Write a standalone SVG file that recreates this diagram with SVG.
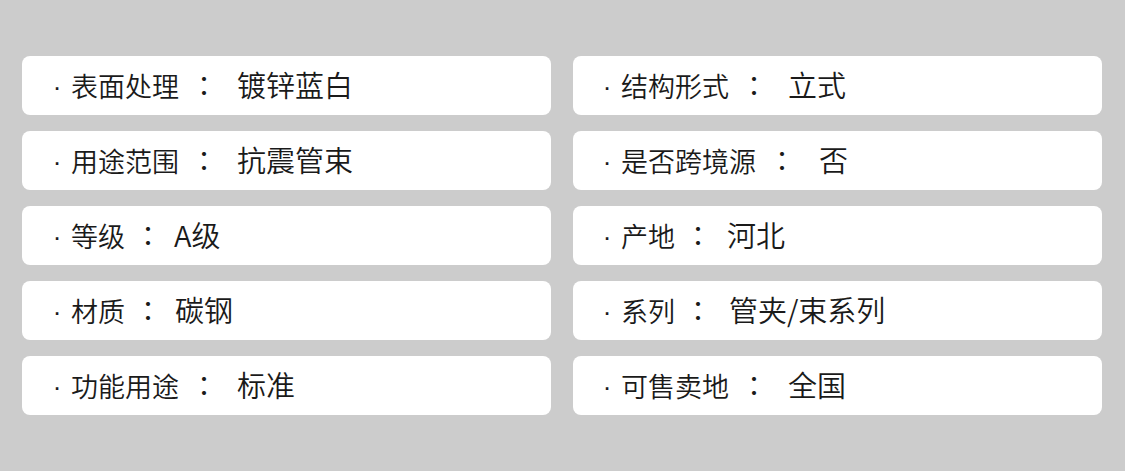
<svg xmlns="http://www.w3.org/2000/svg" width="1125" height="471" viewBox="0 0 1125 471">
<style>
.bg{fill:#cccccc}
.card{fill:#ffffff}
.t{font-family:"Noto Sans CJK SC","Noto Sans",sans-serif;font-size:27px;font-weight:350;fill:#1a1a1a}
.v{font-family:"Noto Sans CJK SC","Noto Sans",sans-serif;font-size:29px;font-weight:350;fill:#1a1a1a}
.d{font-family:"Liberation Sans",sans-serif;font-size:26px;fill:#1a1a1a;text-anchor:middle}
.c{font-family:"Noto Sans CJK TC",sans-serif;font-size:28px;font-weight:350;fill:#1a1a1a;text-anchor:middle}
</style>
<rect class="bg" x="0" y="0" width="1125" height="471"/>
<g id="n1"><rect class="card" x="22" y="56" width="529" height="59" rx="8"/>
<text class="d" x="57" y="96">·</text><text class="t" x="71" y="97">表面处理</text><text class="c" x="204" y="97">：</text><text class="v" x="237" y="97">镀锌蓝白</text></g>
<g id="n2"><rect class="card" x="22" y="131" width="529" height="59" rx="8"/>
<text class="d" x="57" y="171">·</text><text class="t" x="71" y="172">用途范围</text><text class="c" x="204" y="172">：</text><text class="v" x="237" y="172">抗震管束</text></g>
<g id="n3"><rect class="card" x="22" y="206" width="529" height="59" rx="8"/>
<text class="d" x="57" y="246">·</text><text class="t" x="71" y="247">等级</text><text class="c" x="148" y="247">：</text><text class="v" x="174" y="247">A级</text></g>
<g id="n4"><rect class="card" x="22" y="281" width="529" height="59" rx="8"/>
<text class="d" x="57" y="321">·</text><text class="t" x="71" y="322">材质</text><text class="c" x="148" y="322">：</text><text class="v" x="175" y="322">碳钢</text></g>
<g id="n5"><rect class="card" x="22" y="356" width="529" height="59" rx="8"/>
<text class="d" x="57" y="396">·</text><text class="t" x="71" y="397">功能用途</text><text class="c" x="204" y="397">：</text><text class="v" x="237" y="397">标准</text></g>
<g id="n6"><rect class="card" x="573" y="56" width="529" height="59" rx="8"/>
<text class="d" x="607" y="96">·</text><text class="t" x="621" y="97">结构形式</text><text class="c" x="754" y="97">：</text><text class="v" x="788" y="97">立式</text></g>
<g id="n7"><rect class="card" x="573" y="131" width="529" height="59" rx="8"/>
<text class="d" x="607" y="171">·</text><text class="t" x="621" y="172">是否跨境源</text><text class="c" x="782" y="172">：</text><text class="v" x="819" y="172">否</text></g>
<g id="n8"><rect class="card" x="573" y="206" width="529" height="59" rx="8"/>
<text class="d" x="607" y="246">·</text><text class="t" x="621" y="247">产地</text><text class="c" x="698" y="247">：</text><text class="v" x="727" y="247">河北</text></g>
<g id="n9"><rect class="card" x="573" y="281" width="529" height="59" rx="8"/>
<text class="d" x="607" y="321">·</text><text class="t" x="621" y="322">系列</text><text class="c" x="698" y="322">：</text><text class="v" x="729" y="322">管夹/束系列</text></g>
<g id="n10"><rect class="card" x="573" y="356" width="529" height="59" rx="8"/>
<text class="d" x="607" y="396">·</text><text class="t" x="621" y="397">可售卖地</text><text class="c" x="754" y="397">：</text><text class="v" x="788" y="397">全国</text></g>
<g id="connectors"/>
</svg>
